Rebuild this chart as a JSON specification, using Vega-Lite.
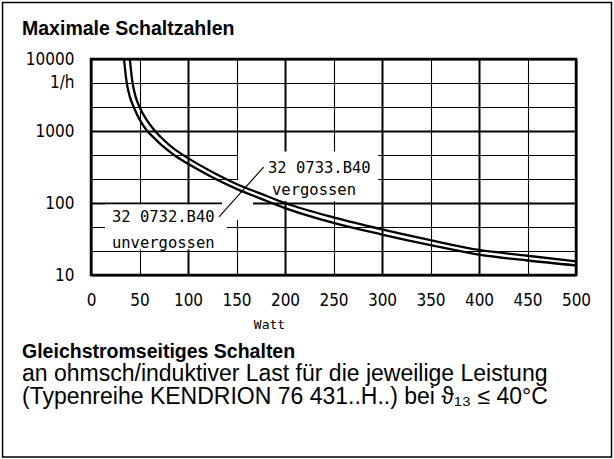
{
  "$schema": "https://vega.github.io/schema/vega-lite/v6.json",
  "width": 485,
  "height": 216,
  "autosize": "none",
  "padding": {"left": 91, "top": 59, "right": 38, "bottom": 184},
  "background": "white",
  "config": {
    "view": {"stroke": "black", "strokeWidth": 2.5},
    "axis": {"domain": false, "ticks": false, "grid": true, "gridColor": "black", "gridOpacity": 1, "labelColor": "black", "labelFont": "Liberation Sans Narrow, DejaVu Sans Condensed, sans-serif", "labelFontSize": 17, "labelOverlap": false, "labelFlush": false, "labelPadding": 17}
  },
  "datasets": {
    "curves": [
      {"w": 40, "f": 10000, "s": "vergossen"},
      {"w": 42.5, "f": 5000, "s": "vergossen"},
      {"w": 46, "f": 3000, "s": "vergossen"},
      {"w": 50, "f": 2154, "s": "vergossen"},
      {"w": 57, "f": 1450, "s": "vergossen"},
      {"w": 66, "f": 1000, "s": "vergossen"},
      {"w": 75, "f": 750, "s": "vergossen"},
      {"w": 86, "f": 560, "s": "vergossen"},
      {"w": 100, "f": 420, "s": "vergossen"},
      {"w": 125, "f": 270, "s": "vergossen"},
      {"w": 150, "f": 184, "s": "vergossen"},
      {"w": 175, "f": 135, "s": "vergossen"},
      {"w": 200, "f": 100, "s": "vergossen"},
      {"w": 250, "f": 63, "s": "vergossen"},
      {"w": 300, "f": 43, "s": "vergossen"},
      {"w": 350, "f": 30.5, "s": "vergossen"},
      {"w": 400, "f": 22.3, "s": "vergossen"},
      {"w": 450, "f": 18.5, "s": "vergossen"},
      {"w": 500, "f": 15.5, "s": "vergossen"},
      {"w": 34, "f": 10000, "s": "unvergossen"},
      {"w": 36.5, "f": 5000, "s": "unvergossen"},
      {"w": 40, "f": 3000, "s": "unvergossen"},
      {"w": 44, "f": 2154, "s": "unvergossen"},
      {"w": 50, "f": 1450, "s": "unvergossen"},
      {"w": 58, "f": 1000, "s": "unvergossen"},
      {"w": 66, "f": 780, "s": "unvergossen"},
      {"w": 75, "f": 600, "s": "unvergossen"},
      {"w": 86, "f": 460, "s": "unvergossen"},
      {"w": 100, "f": 350, "s": "unvergossen"},
      {"w": 125, "f": 228, "s": "unvergossen"},
      {"w": 150, "f": 157, "s": "unvergossen"},
      {"w": 175, "f": 115, "s": "unvergossen"},
      {"w": 200, "f": 85, "s": "unvergossen"},
      {"w": 250, "f": 53, "s": "unvergossen"},
      {"w": 300, "f": 36.5, "s": "unvergossen"},
      {"w": 350, "f": 26, "s": "unvergossen"},
      {"w": 400, "f": 19.2, "s": "unvergossen"},
      {"w": 450, "f": 15.9, "s": "unvergossen"},
      {"w": 500, "f": 13.6, "s": "unvergossen"}
    ],
    "labels": [
      {"text": "32 0733.B40", "w": 182.5, "f": 261},
      {"text": "vergossen", "w": 186.6, "f": 129},
      {"text": "32 0732.B40", "w": 21.6, "f": 54.5},
      {"text": "unvergossen", "w": 21.6, "f": 23.7}
    ],
    "heading": [
      {"text": "Maximale Schaltzahlen", "w": -71.1, "f": 21544},
      {"text": "Gleichstromseitiges Schalten", "w": -71.1, "f": 0.7035}
    ],
    "notes": [
      {"text": "an ohmsch/induktiver Last für die jeweilige Leistung", "w": -71.1, "f": 0.3371},
      {"text": "(Typenreihe KENDRION 76 431..H..) bei ϑ₁₃ ≤ 40°C", "w": -71.1, "f": 0.159}
    ]
  },
  "layer": [
    {
      "data": {"name": "curves"},
      "mark": {"type": "line", "strokeOpacity": 0},
      "encoding": {
        "x": {"field": "w", "type": "quantitative", "title": "Watt",
          "scale": {"domain": [0, 500], "nice": false, "zero": false},
          "axis": {"values": [0, 50, 100, 150, 200, 250, 300, 350, 400, 450, 500], "format": "d",
            "gridWidth": {"condition": {"test": "datum.value % 100 === 0", "value": 2}, "value": 1.1},
            "titleFont": "DejaVu Sans Mono", "titleFontSize": 13, "titleFontWeight": "normal", "titleColor": "black",
            "titleX": 178, "titleY": 53, "titleBaseline": "alphabetic"}},
        "y": {"field": "f", "type": "quantitative", "title": null,
          "scale": {"type": "log", "domain": [10, 10000], "nice": false},
          "axis": {"values": [10, 21.544, 46.416, 100, 215.44, 464.16, 1000, 2154.4, 4641.6, 10000],
            "labelExpr": "datum.value == 4641.6 ? '1/h\u00a0\u00a0' : (indexof([10,100,1000,10000], datum.value) >= 0 ? format(datum.value, 'd') : '')",
            "gridWidth": {"condition": {"test": "indexof([10,100,1000,10000], datum.value) >= 0", "value": 2}, "value": 1.1}}},
        "detail": {"field": "s"}
      }
    },
    {
      "data": {"values": [{}]},
      "mark": {"type": "rect", "color": "white"},
      "encoding": {
        "x": {"datum": 14.4, "type": "quantitative"}, "x2": {"datum": 140},
        "y": {"datum": 95.3, "type": "quantitative"}, "y2": {"datum": 22.6}
      }
    },
    {
      "data": {"values": [{}]},
      "mark": {"type": "rect", "color": "white"},
      "encoding": {
        "x": {"datum": 135, "type": "quantitative"}, "x2": {"datum": 167},
        "y": {"datum": 208, "type": "quantitative"}, "y2": {"datum": 58}
      }
    },
    {
      "data": {"values": [{}]},
      "mark": {"type": "rect", "color": "white"},
      "encoding": {
        "x": {"datum": 151.5, "type": "quantitative"}, "x2": {"datum": 296},
        "y": {"datum": 520, "type": "quantitative"}, "y2": {"datum": 106}
      }
    },
    {
      "data": {"name": "curves"},
      "mark": {"type": "line", "color": "black", "strokeWidth": 2.3, "interpolate": "monotone", "clip": true},
      "encoding": {
        "x": {"field": "w", "type": "quantitative", "title": "Watt"},
        "y": {"field": "f", "type": "quantitative", "title": null},
        "detail": {"field": "s"}
      }
    },
    {
      "data": {"values": [{}]},
      "mark": {"type": "rule", "color": "black", "strokeWidth": 1.1},
      "encoding": {
        "x": {"datum": 132, "type": "quantitative"}, "x2": {"datum": 178},
        "y": {"datum": 64, "type": "quantitative"}, "y2": {"datum": 316}
      }
    },
    {
      "data": {"name": "labels"},
      "mark": {"type": "text", "align": "left", "baseline": "alphabetic", "font": "DejaVu Sans Mono", "fontSize": 15.5, "color": "black"},
      "encoding": {
        "x": {"field": "w", "type": "quantitative", "title": "Watt"},
        "y": {"field": "f", "type": "quantitative", "title": null},
        "text": {"field": "text"}
      }
    },
    {
      "data": {"name": "heading"},
      "mark": {"type": "text", "align": "left", "baseline": "alphabetic", "font": "Liberation Sans", "fontSize": 19.5, "fontWeight": "bold", "color": "black"},
      "encoding": {
        "x": {"field": "w", "type": "quantitative", "title": "Watt"},
        "y": {"field": "f", "type": "quantitative", "title": null},
        "text": {"field": "text"}
      }
    },
    {
      "data": {"name": "notes"},
      "mark": {"type": "text", "align": "left", "baseline": "alphabetic", "font": "Liberation Sans", "fontSize": 23, "color": "black"},
      "encoding": {
        "x": {"field": "w", "type": "quantitative", "title": "Watt"},
        "y": {"field": "f", "type": "quantitative", "title": null},
        "text": {"field": "text"}
      }
    },
    {
      "data": {"values": [{}]},
      "mark": {"type": "rect", "fill": "transparent", "stroke": "black", "strokeWidth": 1.5, "clip": false},
      "encoding": {
        "x": {"datum": -91.2, "type": "quantitative"}, "x2": {"datum": 536.6},
        "y": {"datum": 60950, "type": "quantitative"}, "y2": {"datum": 0.02965}
      }
    }
  ]
}
